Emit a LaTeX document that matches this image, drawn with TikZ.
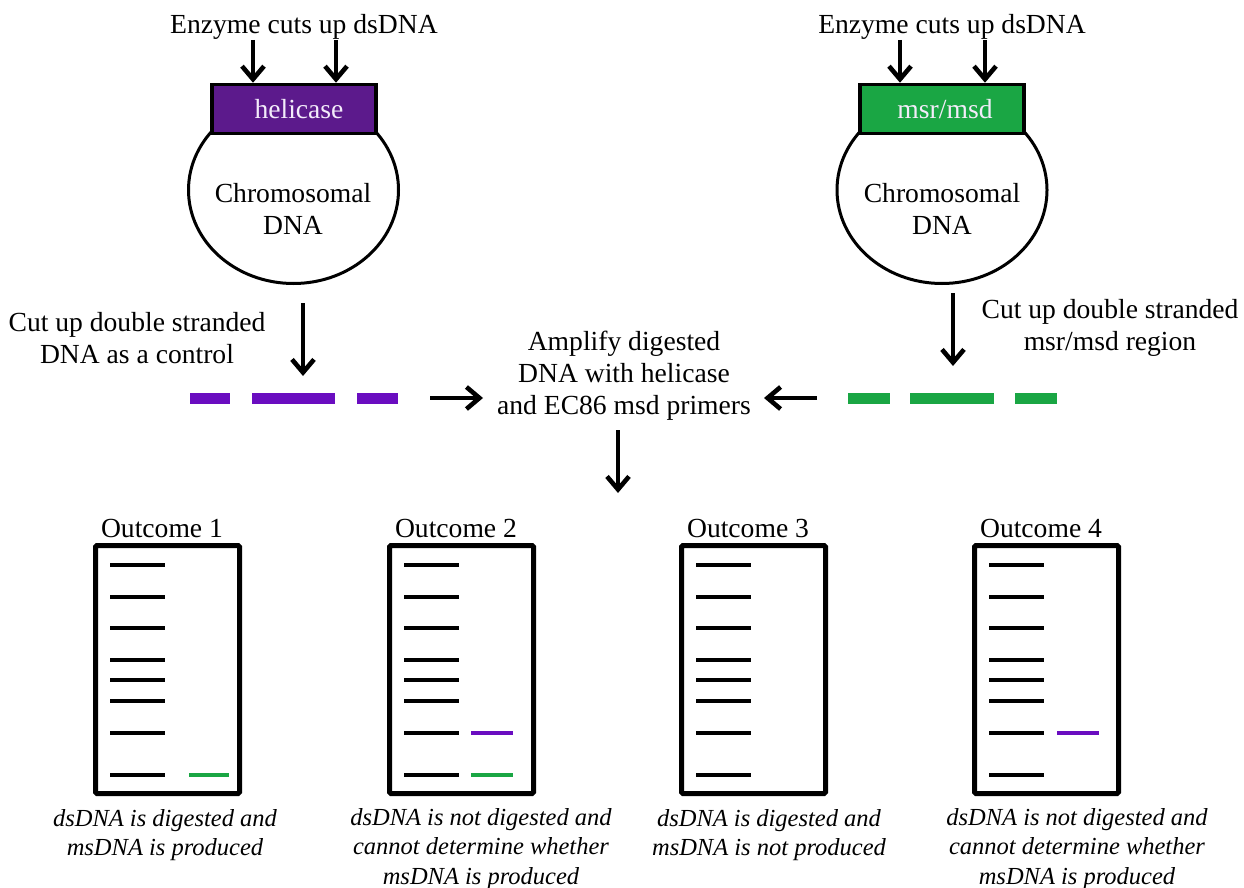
\documentclass[tikz,border=0pt]{standalone}
\usepackage{fontspec}
\setmainfont{Liberation Serif}
\usetikzlibrary{arrows.meta,shapes.geometric}
\definecolor{helpurple}{HTML}{5C1A8C}
\definecolor{bandpurple}{HTML}{6A0DC0}
\definecolor{msgreen}{HTML}{1AA644}
\definecolor{boxtext}{HTML}{F3ECFA}
\tikzset{
  lbl/.style={inner sep=0pt, align=center, font=\fontsize{27.6}{32}\selectfont},
  captext/.style={inner sep=0pt, align=center, font=\fontsize{24.5}{29.5}\selectfont\itshape},
  arr/.style={line width=4.6pt, -{Straight Barb[length=13pt,width=22pt]}},
  genebox/.style={draw=black, line width=3.5pt, minimum width=164pt, minimum height=49pt,
    inner sep=0pt, text=boxtext, font=\fontsize{27.6}{32}\selectfont},
  chrom/.style={ellipse, draw, line width=3pt, minimum width=210pt, minimum height=187pt,
    inner sep=0pt, fill=white},
  dashseg/.style={line width=11pt},
  gel/.style={draw, line width=5pt, rounded corners=1.5pt, minimum width=144pt,
    minimum height=248pt, inner sep=0pt},
  band/.style={line width=4.5pt},
}
\begin{document}
\begin{tikzpicture}[x=1pt,y=-1pt]
\useasboundingbox (0,0) rectangle (1244,888);

% ---- helicase side ----
\node[chrom] (chromL) at (293.5,190) {};
\node[genebox, fill=helpurple] (helbox) at (294,109) {\hspace*{10pt}helicase};
\node[lbl] (chromLtxt) at (293,209) {Chromosomal\\DNA};
\node[lbl] (enzL) at (304,27) {Enzyme cuts up dsDNA};
\coordinate (eL1) at (253,40);
\coordinate (eL2) at (336,40);
\draw[arr] (eL1) -- (eL1 |- helbox.north);
\draw[arr] (eL2) -- (eL2 |- helbox.north);

\node[lbl] (cutL) at (137,338) {Cut up double stranded\\DNA as a control};
\coordinate (cutLtop) at (303,303);
\coordinate (dashLtop) at (303,376);
\draw[arr] (cutLtop) -- (dashLtop);
\draw[dashseg, bandpurple] (190,398) -- (230,398) (252,398) -- (335,398) (357,398) -- (398,398);

% ---- msr/msd side ----
\node[chrom] (chromR) at (942,190) {};
\node[genebox, fill=msgreen] (msdbox) at (942,109) {\hspace*{6pt}msr/msd};
\node[lbl] (chromRtxt) at (942,209) {Chromosomal\\DNA};
\node[lbl] (enzR) at (952,27) {Enzyme cuts up dsDNA};
\coordinate (eR1) at (900,40);
\coordinate (eR2) at (985,40);
\draw[arr] (eR1) -- (eR1 |- msdbox.north);
\draw[arr] (eR2) -- (eR2 |- msdbox.north);

\node[lbl] (cutR) at (1110,328) {Cut up double stranded\\msr/msd region};
\coordinate (cutRtop) at (953,293);
\coordinate (dashRtop) at (953,366);
\draw[arr] (cutRtop) -- (dashRtop);
\draw[dashseg, msgreen] (848,398) -- (890,398) (910,398) -- (994,398) (1015,398) -- (1057,398);

% ---- amplification ----
\node[lbl] (amp) at (624,375.5) {Amplify digested\\DNA with helicase\\and EC86 msd primers};
\coordinate (ampInL) at (430,398);
\coordinate (ampL) at (483,398);
\coordinate (ampInR) at (817,398);
\coordinate (ampR) at (764,398);
\coordinate (ampOut) at (618,430);
\coordinate (ampDown) at (618,493);
\draw[arr] (ampInL) -- (ampL);
\draw[arr] (ampInR) -- (ampR);
\draw[arr] (ampOut) -- (ampDown);

% ---- gels ----
\foreach \n/\xl in {1/93, 2/387, 3/679, 4/972} {
  \node[gel] (gel\n) at (\xl+74.5,669.5) {};
  \node[lbl] (out\n) at (\xl+69,528) {Outcome \n};
  \foreach \y in {565,597,628,660,680,701,733,775}
    \draw[band] (\xl+17,\y) -- (\xl+72,\y);
}
\draw[band, line width=4pt, msgreen] (189,775) -- (229,775);
\draw[band, line width=4pt, bandpurple] (471,733) -- (513,733);
\draw[band, line width=4pt, msgreen] (471,775) -- (513,775);
\draw[band, line width=4pt, bandpurple] (1057,733) -- (1099,733);

\node[captext] (cap1) at (165,835) {dsDNA is digested and\\msDNA is produced};
\node[captext] (cap2) at (481,849) {dsDNA is not digested and\\cannot determine whether\\msDNA is produced};
\node[captext] (cap3) at (769,835) {dsDNA is digested and\\msDNA is not produced};
\node[captext] (cap4) at (1077,849) {dsDNA is not digested and\\cannot determine whether\\msDNA is produced};
\end{tikzpicture}
\end{document}
